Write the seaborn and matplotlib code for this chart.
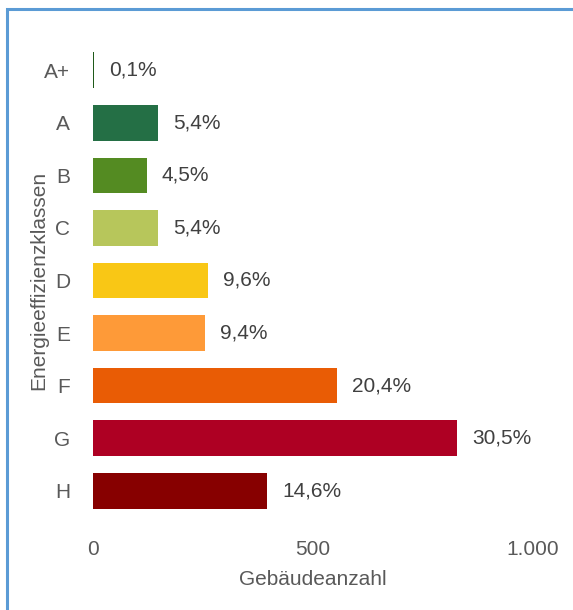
import matplotlib
matplotlib.use("Agg")
import matplotlib.pyplot as plt
import seaborn as sns
import pandas as pd
from matplotlib.patches import Rectangle

# Daten
klassen = ["A+", "A", "B", "C", "D", "E", "F", "G", "H"]
anzahl = [3, 147, 122, 147, 261, 255, 554, 828, 396]
anteil = [0.1, 5.4, 4.5, 5.4, 9.6, 9.4, 20.4, 30.5, 14.6]
farben = ["#1f5a1a", "#246f45", "#548b22", "#b7c65b", "#f9c715",
          "#fe9a38", "#e95c05", "#ae0023", "#870000"]

df = pd.DataFrame({"Klasse": klassen, "Anzahl": anzahl})

sns.set_style("white")
plt.rcParams["font.family"] = ["Liberation Sans", "DejaVu Sans"]
grau = "#595959"
fs = 15

fig = plt.figure(figsize=(5.73, 6.10), dpi=100)
ax = fig.add_axes([93 / 573, 1 - 517 / 610, 440 / 573, 473 / 610])

sns.barplot(data=df, x="Anzahl", y="Klasse", hue="Klasse", palette=farben,
            legend=False, width=0.68, orient="h", ax=ax, saturation=1,
            linewidth=0)

for i, (v, p) in enumerate(zip(anzahl, anteil)):
    ax.annotate(f"{p:.1f}%".replace(".", ","), xy=(v, i), xytext=(11, 0),
                textcoords="offset points", va="center", ha="left",
                fontsize=fs, color="#404040", annotation_clip=False)

ax.set_xlim(0, 1000)
ax.set_xticks([0, 500, 1000])
ax.set_xticklabels(["0", "500", "1.000"])
ax.tick_params(axis="both", length=0, labelsize=fs, colors=grau)
ax.tick_params(axis="x", pad=16.5)
ax.tick_params(axis="y", pad=16.5)
ax.set_xlabel("Gebäudeanzahl", fontsize=fs, color=grau, labelpad=8)
ax.set_ylabel("Energieeffizienzklassen", fontsize=fs, color=grau, labelpad=-3)
for s in ax.spines.values():
    s.set_visible(False)

# blauer Rahmen
fig.patches.append(Rectangle((7 / 573, -0.1), 1.2, 1 - 9 / 610 + 0.1,
                             transform=fig.transFigure, fill=False,
                             edgecolor="#5b9bd5", linewidth=2.2))

fig.savefig("out.png", dpi=100)
